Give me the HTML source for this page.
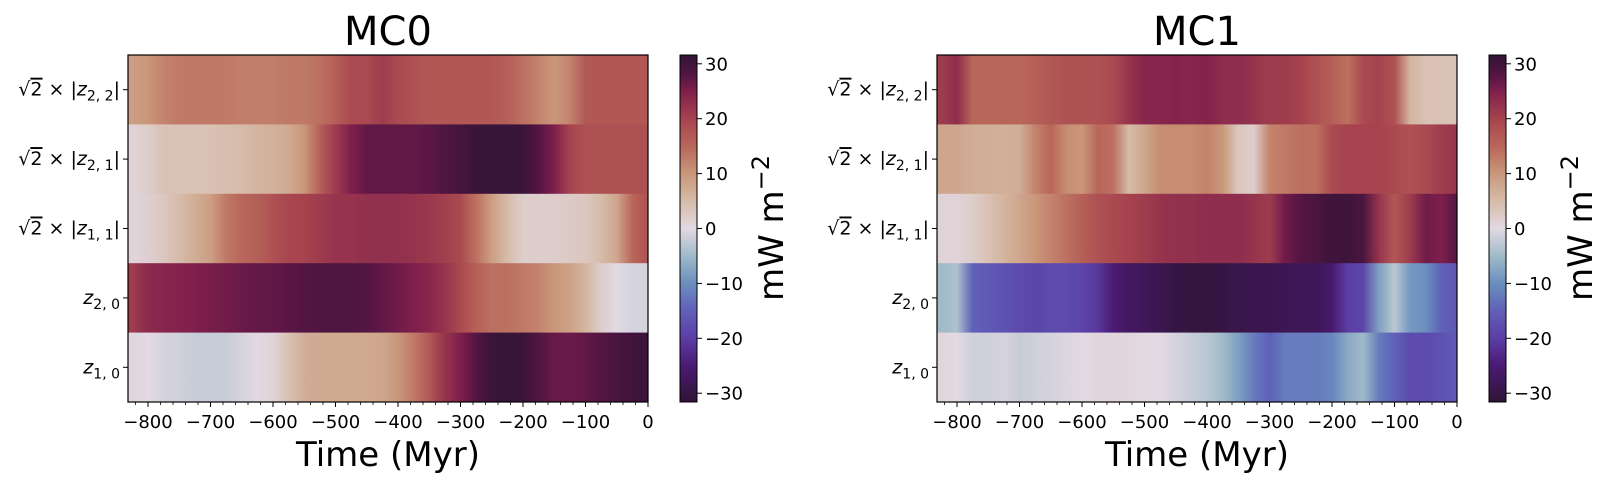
<!DOCTYPE html>
<html><head><meta charset="utf-8">
<style>
html,body{margin:0;padding:0;background:#fff;}
svg text{font-family:"DejaVu Sans","Liberation Sans",sans-serif;fill:#000;}
</style></head>
<body>
<svg id="fig" width="1599" height="486" viewBox="0 0 1599 486" xmlns="http://www.w3.org/2000/svg">
<defs id="defs"></defs>
</svg>
<script>
const times = [-825,-800,-775,-750,-725,-700,-675,-650,-625,-600,-575,-550,-525,-500,-475,-450,-425,-400,-375,-350,-325,-300,-275,-250,-225,-200,-175,-150,-125,-100,-75,-50,-25,0];
const rowLabels = ["z22","z21","z11","z20","z10"];
const xTicks = [-800,-700,-600,-500,-400,-300,-200,-100,0];
const xTickLabels = ["\u2212800","\u2212700","\u2212600","\u2212500","\u2212400","\u2212300","\u2212200","\u2212100","0"];
const cbTicks = [-30,-20,-10,0,10,20,30];
const cbTickLabels = ["\u221230","\u221220","\u221210","0","10","20","30"];
const titles = ["MC0","MC1"];
// MC0 rows
const mc0_z22 = [9,10,12,13,13,13,13,12.5,12.5,12.5,13,13,14,16,19,19,21,19,18,17,17,17,17,17,16,14,12,10,12,17,17,17,17,17];
const mc0_z21 = [1,2,4,4,4,4,4.5,5,6,6.5,7.5,10,16,21,25,27,27,27,27,27.5,28.5,29.5,30.5,30.8,30.8,30.5,28,25,20,18,18,18,18,18];
const mc0_z11 = [1,1.5,3,5,7,9,13,15,16,18,19.5,20,21,22,22,22.5,22.5,22.5,22,21.5,20.5,19,14,9,5,2,2,2,2.5,3,5,8,15,18];
const mc0_z20 = [21,23.5,24,24.5,25,25.5,26,26.5,27,27,27.5,28,28.5,28.5,28.5,28,27,26,25,24,22,19,16,14,14,13,12,10,8.5,6,2,0,-1,-1];
const mc0_z10 = [0.5,0,-1,-1.5,-2,-2,-2,-1,0,1,4,7,7.5,7.5,7.5,7.5,8,10,13,17,22,25,28,30.5,30.8,30.5,28.5,26.5,26.5,27,28,29,30,30.5];
// MC1 rows
const mc1_z22 = [21,23,15,15,15,15,16,17,18,18,18,19,22,24,24,24.5,24,24.5,23,23,22,21,21,20,18,16,14,19,20,18,6,4,4,4];
const mc1_z21 = [8,8,7,7,6.5,7,12,15,11,10,15,14,5,8,11,11,11,12,10,3,2,12,13,14,14,19,20,20,20,19,18,19,21,22];
const mc1_z11 = [1,1,2,4,6,8,10,12,14,16,18,19,20,21,22,22.5,22.5,23,23,23,22,21,26,28,29,30,30,29,22,17,21,26,25,28];
const mc1_z20 = [-5,-4,-15,-16,-17,-18,-19,-18,-18,-19,-21,-25,-27,-28,-29,-30,-30.5,-30.5,-30,-29.5,-29,-29,-28.5,-28,-28,-26,-20,-19,-8,-3,-9,-10,-15,-16];
const mc1_z10 = [0.5,0,-1.5,-1.5,-1,-2,-1.5,-1,-0.5,0,0.5,0.5,0.5,0,0,-1,-2,-3,-5,-8,-12,-15,-12,-12,-12,-11,-7,-5,-12,-15,-18,-18,-17,-16];

const panels = [
  {rows:[mc0_z22,mc0_z21,mc0_z11,mc0_z20,mc0_z10], off:0},
  {rows:[mc1_z22,mc1_z21,mc1_z11,mc1_z20,mc1_z10], off:809}
];

const NS="http://www.w3.org/2000/svg";
const svg=document.getElementById('fig');
const defs=document.getElementById('defs');
const AX={l:128,r:648,t:55,b:402};
const XMIN=-832,XMAX=0,VMIN=-31.6,VMAX=31.6;
const CB={l:680,r:697};
function xScale(t,off){return off+AX.l+(t-XMIN)/(XMAX-XMIN)*(AX.r-AX.l);}
function cbScale(v){return AX.b-(v-VMIN)/(VMAX-VMIN)*(AX.b-AX.t);}
const cmap=[[0,"#2f1436"],[0.105,"#4b1a74"],[0.184,"#5b3ea5"],[0.263,"#6060b8"],[0.342,"#6a8fbe"],[0.42,"#9fbac8"],[0.5,"#e2d9e2"],[0.58,"#d6bba8"],[0.658,"#c9977a"],[0.737,"#b9665a"],[0.816,"#a6434e"],[0.895,"#7f1f4c"],[0.94,"#561544"],[1,"#2f1436"]];
function hex(h){return [parseInt(h.substr(1,2),16),parseInt(h.substr(3,2),16),parseInt(h.substr(5,2),16)];}
function color(v){
  let f=(v-VMIN)/(VMAX-VMIN);f=Math.max(0,Math.min(1,f));
  for(let i=1;i<cmap.length;i++){ if(f<=cmap[i][0]){const a=hex(cmap[i-1][1]),b=hex(cmap[i][1]);const u=(f-cmap[i-1][0])/(cmap[i][0]-cmap[i-1][0]);
    return "rgb("+a.map((c,k)=>Math.round(c+(b[k]-c)*u)).join(",")+")";}}
  return cmap[cmap.length-1][1];
}
function mk(tag,attrs,parent){const e=document.createElementNS(NS,tag);for(const k in attrs)e.setAttribute(k,attrs[k]);(parent||svg).appendChild(e);return e;}

const rowH=(AX.b-AX.t)/5;
const yLabelParts=[["\u221A","2"," \u00D7 |","2, 2","|"],["\u221A","2"," \u00D7 |","2, 1","|"],["\u221A","2"," \u00D7 |","1, 1","|"],null,null];
const plainSub=[null,null,null,"2, 0","1, 0"];

panels.forEach((p,pi)=>{
  const off=p.off;
  const g=mk('g',{});
  
  
  p.rows.forEach((vals,ri)=>{
    const gid='grad'+pi+'_'+ri;
    const lg=mk('linearGradient',{id:gid,gradientUnits:'userSpaceOnUse',x1:xScale(times[0],off),x2:xScale(times[times.length-1],off),y1:0,y2:0},defs);
    vals.forEach((v,i)=>{mk('stop',{offset:(i/(times.length-1)).toFixed(4),'stop-color':color(v)},lg);});
    const r=mk('rect',{x:AX.l+off,y:AX.t+ri*rowH,width:AX.r-AX.l,height:rowH+0.5,fill:'url(#'+gid+')'},g);
    
    
  });
  const fr=mk('rect',{x:AX.l+off,y:AX.t,width:AX.r-AX.l,height:AX.b-AX.t,fill:'none',stroke:'#000','stroke-width':1.2},g);
  
  
  for(let t=-820;t<=0;t+=20){const x=xScale(t,off);const major=(t%100===0);
    mk('line',{x1:x,x2:x,y1:AX.b,y2:AX.b+(major?5:3),stroke:'#000','stroke-width':major?1:0.8},g);}
  xTicks.forEach((t,i)=>{const tx=mk('text',{x:xScale(t,off),y:428,'font-size':18,'text-anchor':'middle'},g);tx.textContent=xTickLabels[i];
    
    });
  const xl=mk('text',{x:off+388,y:466,'font-size':34,'text-anchor':'middle'},g);xl.textContent="Time (Myr)";
  
  
  const ti=mk('text',{x:off+388,y:45,'font-size':40,'text-anchor':'middle'},g);ti.textContent=titles[pi];
  
  
  for(let ri=0;ri<5;ri++){const y=AX.t+(ri+0.5)*rowH;
    mk('line',{x1:AX.l+off-5,x2:AX.l+off,y1:y,y2:y,stroke:'#000','stroke-width':1},g);
    const tx=mk('text',{x:AX.l+off-8,y:y+6,'font-size':19,'text-anchor':'end'},g);
    
    
    if(yLabelParts[ri]){const pr=yLabelParts[ri];
      mk('tspan',{},tx).textContent=pr[0];
      mk('tspan',{'text-decoration':'overline'},tx).textContent=pr[1];
      mk('tspan',{},tx).textContent=pr[2];
      mk('tspan',{'font-style':'italic'},tx).textContent="z";
      mk('tspan',{'font-size':14,dy:5},tx).textContent=pr[3];
      mk('tspan',{dy:-5},tx).textContent=pr[4];
    } else {
      mk('tspan',{'font-style':'italic'},tx).textContent="z";
      mk('tspan',{'font-size':14,dy:5},tx).textContent=plainSub[ri];
    }
  }
  const cgid='cbgrad'+pi;
  const cg=mk('linearGradient',{id:cgid,x1:0,x2:0,y1:1,y2:0},defs);
  cmap.forEach(s=>mk('stop',{offset:s[0],'stop-color':s[1]},cg));
  const cb=mk('rect',{x:CB.l+off,y:AX.t,width:CB.r-CB.l,height:AX.b-AX.t,fill:'url(#'+cgid+')',stroke:'#000','stroke-width':1},g);
  
  
  cbTicks.forEach((v,i)=>{const y=cbScale(v);
    mk('line',{x1:CB.r+off,x2:CB.r+off+5,y1:y,y2:y,stroke:'#000','stroke-width':1},g);
    const tx=mk('text',{x:CB.r+off+8,y:y+6.5,'font-size':18},g);tx.textContent=cbTickLabels[i];
    
    });
  const cl=mk('text',{x:0,y:0,'font-size':34,'text-anchor':'middle',transform:'translate('+(off+783)+',228) rotate(-90)'},g);
  mk('tspan',{},cl).textContent="mW m";
  mk('tspan',{'font-size':24,dy:-14},cl).textContent="\u22122";
  
  
});
</script>
</body></html>
